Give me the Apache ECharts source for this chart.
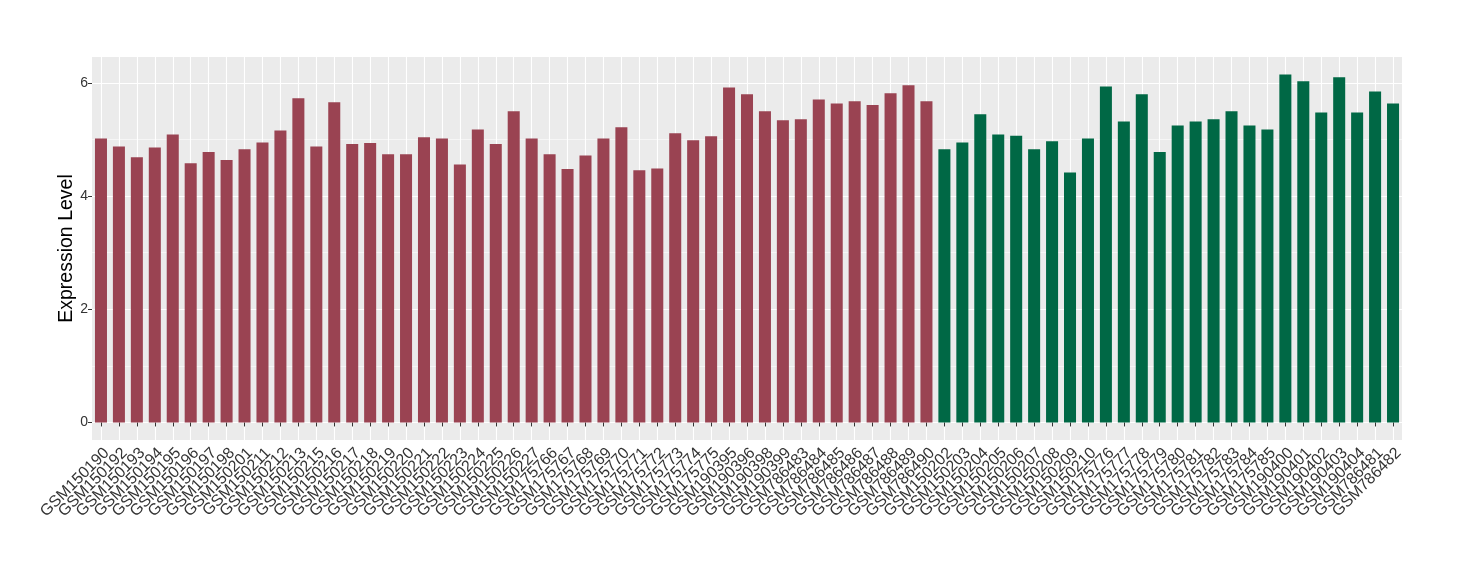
<!DOCTYPE html>
<html>
<head>
<meta charset="utf-8">
<script src="https://cdn.jsdelivr.net/npm/echarts@6/dist/echarts.min.js"></script>
<style>
html,body{margin:0;padding:0;background:#fff;}
#chart{width:1460px;height:580px;}
</style>
</head>
<body>
<div id="chart"></div>
<script>
// Group 1 (red)
const groupACategories = ["GSM150190","GSM150192","GSM150193","GSM150194","GSM150195","GSM150196","GSM150197","GSM150198","GSM150201","GSM150211","GSM150212","GSM150213","GSM150215","GSM150216","GSM150217","GSM150218","GSM150219","GSM150220","GSM150221","GSM150222","GSM150223","GSM150224","GSM150225","GSM150226","GSM150227","GSM175766","GSM175767","GSM175768","GSM175769","GSM175770","GSM175771","GSM175772","GSM175773","GSM175774","GSM175775","GSM190395","GSM190396","GSM190398","GSM190399","GSM786483","GSM786484","GSM786485","GSM786486","GSM786487","GSM786488","GSM786489","GSM786490"];
const groupAValues = [5.02,4.88,4.69,4.86,5.09,4.58,4.78,4.64,4.83,4.95,5.16,5.73,4.88,5.66,4.92,4.94,4.74,4.74,5.04,5.02,4.56,5.18,4.92,5.50,5.02,4.74,4.48,4.72,5.02,5.22,4.46,4.49,5.11,4.99,5.06,5.92,5.80,5.50,5.34,5.36,5.71,5.64,5.68,5.61,5.82,5.96,5.68];
// Group 2 (green)
const groupBCategories = ["GSM150202","GSM150203","GSM150204","GSM150205","GSM150206","GSM150207","GSM150208","GSM150209","GSM150210","GSM175776","GSM175777","GSM175778","GSM175779","GSM175780","GSM175781","GSM175782","GSM175783","GSM175784","GSM175785","GSM190400","GSM190401","GSM190402","GSM190403","GSM190404","GSM786481","GSM786482"];
const groupBValues = [4.83,4.95,5.45,5.09,5.07,4.83,4.97,4.42,5.02,5.94,5.32,5.80,4.78,5.25,5.32,5.36,5.50,5.25,5.18,6.15,6.03,5.48,6.10,5.48,5.85,5.64];
const yTickLabels = [0,2,4,6];
const yMinorGrid = [1,3,5];

const colorA = '#9A4352';
const colorB = '#006845';
const categories = groupACategories.concat(groupBCategories);
const barData = groupAValues.map(v => ({value: v, itemStyle: {color: colorA}}))
  .concat(groupBValues.map(v => ({value: v, itemStyle: {color: colorB}})));

const gridLines = []
  .concat(categories.map(c => ({xAxis: c, lineStyle: {color: '#ffffff', width: 1.1, type: 'solid'}})))
  .concat(yTickLabels.map(v => ({yAxis: v, lineStyle: {color: '#ffffff', width: 1.1, type: 'solid'}})))
  .concat(yMinorGrid.map(v => ({yAxis: v, lineStyle: {color: '#ffffff', width: 0.55, type: 'solid'}})));

const font = 'Liberation Sans, Arial, sans-serif';
const chart = echarts.init(document.getElementById('chart'), null, {renderer: 'canvas'});
chart.setOption({
  animation: false,
  backgroundColor: '#ffffff',
  grid: {left: 92, right: 58, top: 57, bottom: 140, show: true, backgroundColor: '#EBEBEB', borderWidth: 0},
  xAxis: {
    type: 'category',
    data: categories,
    axisLine: {show: false},
    axisTick: {show: true, alignWithLabel: true, length: 4, lineStyle: {color: '#333333', width: 1}},
    splitLine: {show: false},
    axisLabel: {rotate: 45, interval: 0, margin: 5, align: 'right', verticalAlign: 'top', fontSize: 16, color: '#333333', fontFamily: font}
  },
  yAxis: {
    type: 'value',
    min: -0.31,
    max: 6.46,
    name: 'Expression Level',
    nameLocation: 'middle',
    nameGap: 15,
    nameMoveOverlap: false,
    nameTextStyle: {fontSize: 19.5, color: '#000000', fontFamily: font},
    axisLine: {show: false},
    axisTick: {show: true, length: 4, customValues: yTickLabels, lineStyle: {color: '#333333', width: 1}},
    splitLine: {show: false},
    axisLabel: {customValues: yTickLabels, fontSize: 14, color: '#333333', fontFamily: font, margin: 4}
  },
  series: [
    {
      type: 'line',
      data: [],
      silent: true,
      z: 0,
      markLine: {
        silent: true,
        z: 0,
        symbol: ['none', 'none'],
        label: {show: false},
        animation: false,
        data: gridLines
      }
    },
    {
      type: 'bar',
      data: barData,
      barWidth: '67%',
      z: 2
    }
  ]
});
</script>
</body>
</html>
